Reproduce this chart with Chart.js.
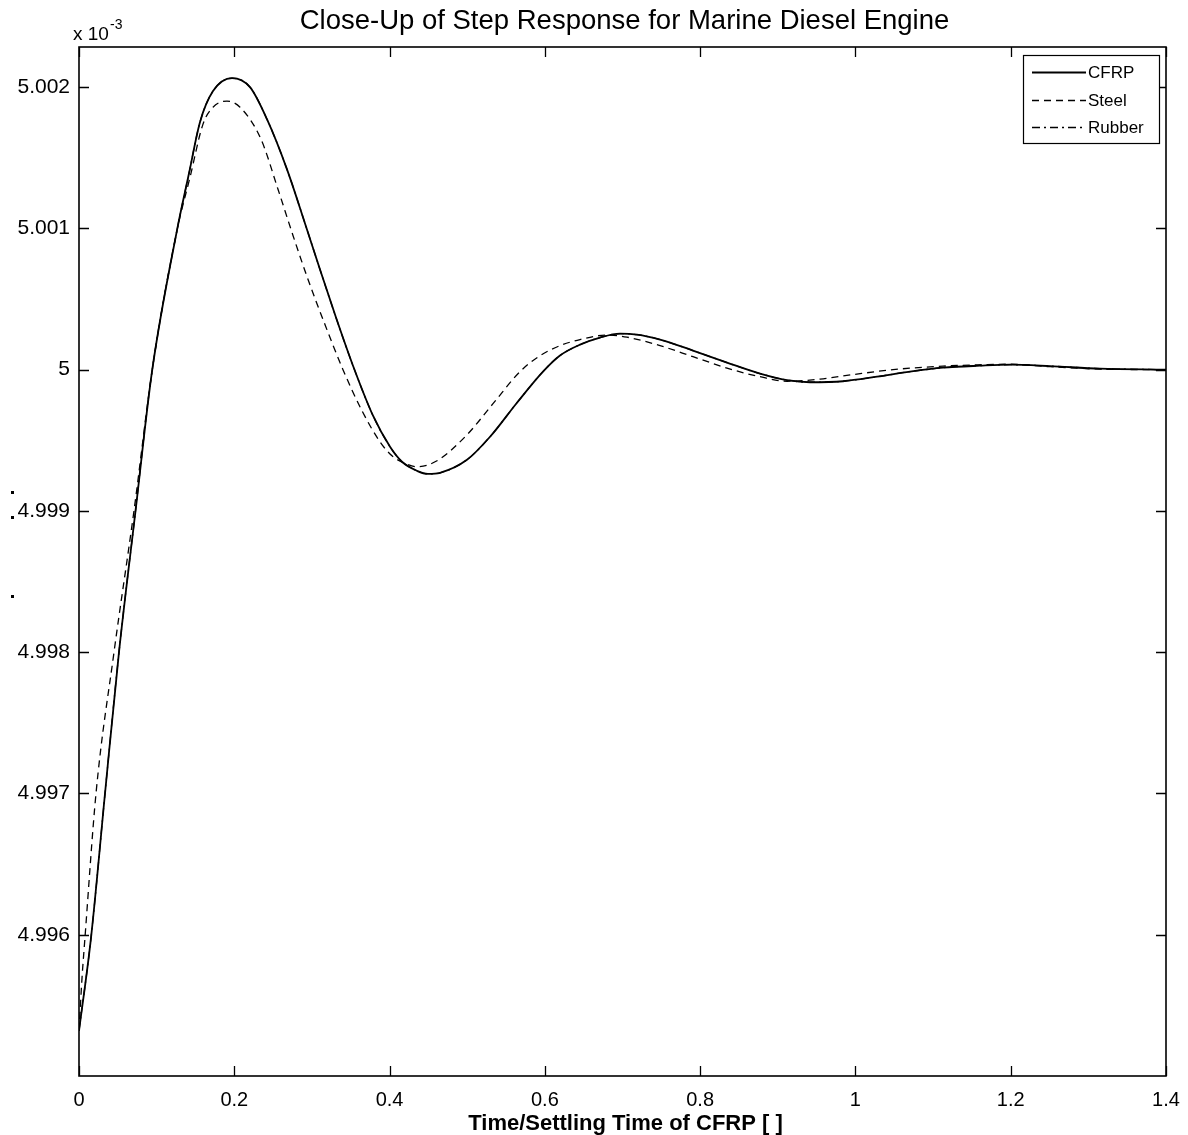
<!DOCTYPE html>
<html><head><meta charset="utf-8">
<script src="https://cdn.jsdelivr.net/npm/chart.js@4.4.1/dist/chart.umd.min.js"></script>
<style>html,body{margin:0;padding:0;background:#fff;overflow:hidden}</style>
</head><body>
<canvas id="c" width="1188" height="1135"></canvas>
<script>
// ---- data (y values in units of 1e-3) ----
const tCFRP = [0, 0.0155, 0.0335, 0.0515, 0.0728, 0.094, 0.1262, 0.1417, 0.1558, 0.1726, 0.1971, 0.2202, 0.2421, 0.2679, 0.2911, 0.3104, 0.331, 0.3529, 0.3787, 0.4006, 0.416, 0.4353, 0.4495, 0.465, 0.4997, 0.5294, 0.5641, 0.5976, 0.6195, 0.6453, 0.671, 0.6968, 0.7187, 0.7483, 0.7908, 0.8346, 0.8771, 0.9119, 0.9415, 0.984, 1.0278, 1.0703, 1.1128, 1.1605, 1.1991, 1.2507, 1.315, 1.4];
const vCFRP = [4.99532, 4.99598, 4.99700, 4.99800, 4.99900, 4.999986, 5.000986, 5.00139, 5.001752, 5.001972, 5.002064, 5.002000, 5.001773, 5.001418, 5.001035, 5.000709, 5.000369, 5.000028, 4.999674, 4.999454, 4.999348, 4.999284, 4.999262, 4.99927, 4.999362, 4.999525, 4.999766, 4.999986, 5.0001, 5.000177, 5.000227, 5.000255, 5.000248, 5.000213, 5.000135, 5.00005, 4.999972, 4.999926, 4.999911, 4.999918, 4.99995, 4.999986, 5.000014, 5.000028, 5.000035, 5.000025, 5.000007, 5.0];
const tSteel = [0, 0.0039, 0.0077, 0.0219, 0.0451, 0.0708, 0.094, 0.1262, 0.143, 0.1597, 0.1726, 0.1906, 0.2074, 0.2344, 0.2563, 0.2756, 0.295, 0.3168, 0.34, 0.3645, 0.3877, 0.4031, 0.4212, 0.4353, 0.4611, 0.4997, 0.5332, 0.568, 0.5938, 0.6195, 0.6453, 0.68, 0.7058, 0.7483, 0.7908, 0.8346, 0.8771, 0.9119, 0.9544, 0.9969, 1.0484, 1.1128, 1.1644, 1.1991, 1.2507, 1.315, 1.4];
const vSteel = [4.99532, 4.995695, 4.99598, 4.99700, 4.99800, 4.99900, 4.999986, 5.000986, 5.001362, 5.001738, 5.001858, 5.001901, 5.001858, 5.001631, 5.001277, 5.00095, 5.000638, 5.000319, 5.0, 4.999709, 4.999489, 4.99939, 4.999333, 4.999312, 4.999355, 4.999539, 4.999759, 4.999986, 5.000099, 5.00017, 5.000213, 5.000245, 5.00023, 5.00017, 5.000092, 5.000011, 4.99995, 4.999918, 4.999933, 4.999965, 5.0, 5.000025, 5.000035, 5.000039, 5.000021, 5.000004, 5.0];
// Rubber lies under the CFRP curve in the picture
const tRubber = [0, 0.0155, 0.0335, 0.0515, 0.0728, 0.094, 0.1262, 0.1417, 0.1558, 0.1726, 0.1971, 0.2202, 0.2421, 0.2679, 0.2911, 0.3104, 0.331, 0.3529, 0.3787, 0.4006, 0.416, 0.4353, 0.4495, 0.465, 0.4997, 0.5294, 0.5641, 0.5976, 0.6195, 0.6453, 0.671, 0.6968, 0.7187, 0.7483, 0.7908, 0.8346, 0.8771, 0.9119, 0.9415, 0.984, 1.0278, 1.0703, 1.1128, 1.1605, 1.1991, 1.2507, 1.315, 1.4];
const vRubber = [4.99532, 4.99598, 4.99700, 4.99800, 4.99900, 4.999986, 5.000986, 5.00139, 5.001752, 5.001972, 5.002064, 5.002000, 5.001773, 5.001418, 5.001035, 5.000709, 5.000369, 5.000028, 4.999674, 4.999454, 4.999348, 4.999284, 4.999262, 4.99927, 4.999362, 4.999525, 4.999766, 4.999986, 5.0001, 5.000177, 5.000227, 5.000255, 5.000248, 5.000213, 5.000135, 5.00005, 4.999972, 4.999926, 4.999911, 4.999918, 4.99995, 4.999986, 5.000014, 5.000028, 5.000035, 5.000025, 5.000007, 5.0];
const seriesNames = ['CFRP', 'Steel', 'Rubber'];
const xTicks = [0, 0.2, 0.4, 0.6, 0.8, 1, 1.2, 1.4];
const xTickLabels = ['0', '0.2', '0.4', '0.6', '0.8', '1', '1.2', '1.4'];
const yTicks = [4.996, 4.997, 4.998, 4.999, 5.000, 5.001, 5.002];
const yTickLabels = ['4.996', '4.997', '4.998', '4.999', '5', '5.001', '5.002'];
const titleText = 'Close-Up of Step Response for Marine Diesel Engine';
const xLabelText = 'Time/Settling Time of CFRP [ ]';

const FONT = '"Liberation Sans", Arial, Helvetica, sans-serif';
const pts = (t, v) => t.map((x, i) => ({x: x, y: v[i]}));

const styles = [
  {borderColor:'#000', borderWidth:1.8, borderDash:[], order:0},
  {borderColor:'#000', borderWidth:1.3, borderDash:[7,5], order:1},
  {borderColor:'#000', borderWidth:1.3, borderDash:[8,4,2,4], order:2}
];

const deco = {
  id: 'deco',
  afterDatasetsDraw(chart) {
    const ctx = chart.ctx, a = chart.chartArea;
    const xs = chart.scales.x, ys = chart.scales.y;
    ctx.save();
    ctx.strokeStyle = '#000'; ctx.lineWidth = 1.6; ctx.setLineDash([]);
    ctx.strokeRect(a.left, a.top, a.right - a.left, a.bottom - a.top);
    const L = 10;
    ctx.lineWidth = 1.3;
    ctx.beginPath();
    xTicks.forEach(v => {
      const px = Math.round(xs.getPixelForValue(v)) + 0.5;
      ctx.moveTo(px, a.bottom); ctx.lineTo(px, a.bottom - L);
      ctx.moveTo(px, a.top); ctx.lineTo(px, a.top + L);
    });
    yTicks.forEach(v => {
      const py = Math.round(ys.getPixelForValue(v)) + 0.5;
      ctx.moveTo(a.left, py); ctx.lineTo(a.left + L, py);
      ctx.moveTo(a.right, py); ctx.lineTo(a.right - L, py);
    });
    ctx.stroke();
    ctx.fillStyle = '#000';
    ctx.textAlign = 'center'; ctx.textBaseline = 'alphabetic';
    const cx = (a.left + a.right) / 2;
    ctx.font = '27.5px ' + FONT;
    ctx.fillText(titleText, cx + 2, 29);
    ctx.font = 'bold 22px ' + FONT;
    ctx.fillText(xLabelText, cx + 3, 1130);
    ctx.textAlign = 'left';
    ctx.font = '19px ' + FONT;
    ctx.fillText('x 10', 73, 40);
    ctx.font = '14px ' + FONT;
    ctx.fillText('-3', 110, 29);
    ctx.fillRect(11, 491, 3, 3);
    ctx.fillRect(11, 516, 3, 3);
    ctx.fillRect(11, 595, 3, 3);
    // legend
    const lx = 1023, ly = 55, lw = 136, lh = 88;
    ctx.fillStyle = '#fff';
    ctx.fillRect(lx, ly, lw, lh);
    ctx.strokeStyle = '#000'; ctx.lineWidth = 1.2;
    ctx.strokeRect(lx + 0.5, ly + 0.5, lw, lh);
    const rows = [72, 100, 127];
    ctx.font = '17px ' + FONT;
    ctx.textBaseline = 'middle';
    chart.data.datasets.forEach((ds, i) => {
      ctx.strokeStyle = ds.borderColor;
      ctx.lineWidth = ds.borderWidth;
      ctx.setLineDash(ds.borderDash);
      ctx.beginPath();
      ctx.moveTo(1032, rows[i] + 0.5); ctx.lineTo(1086, rows[i] + 0.5);
      ctx.stroke();
      ctx.setLineDash([]);
      ctx.fillStyle = '#000';
      ctx.fillText(ds.label, 1088, rows[i] + 1);
    });
    ctx.restore();
  }
};

new Chart(document.getElementById('c'), {
  type: 'line',
  data: {
    datasets: [
      Object.assign({label: seriesNames[0], data: pts(tCFRP, vCFRP)}, styles[0]),
      Object.assign({label: seriesNames[1], data: pts(tSteel, vSteel)}, styles[1]),
      Object.assign({label: seriesNames[2], data: pts(tRubber, vRubber)}, styles[2])
    ]
  },
  options: {
    responsive: false,
    devicePixelRatio: 1,
    animation: false,
    parsing: false,
    elements: { point: { radius: 0 }, line: { cubicInterpolationMode: 'monotone', fill: false } },
    layout: { padding: { top: 47, right: 22, left: 0, bottom: 0 } },
    plugins: { legend: { display: false }, title: { display: false }, tooltip: { enabled: false } },
    scales: {
      x: {
        type: 'linear', min: 0, max: 1.4,
        grid: { display: false, drawTicks: false },
        border: { display: false },
        afterBuildTicks: s => { s.ticks = xTicks.map(v => ({value: v})); },
        afterFit: s => { s.height = 59; s.paddingLeft = 0; s.paddingRight = 0; },
        ticks: {
          padding: 12, color: '#000', font: { family: FONT, size: 20 },
          maxRotation: 0, autoSkip: false,
          callback: (v) => xTickLabels[xTicks.findIndex(t => Math.abs(t - v) < 1e-9)]
        }
      },
      y: {
        type: 'linear', min: 4.995, max: 5.002284,
        grid: { display: false, drawTicks: false },
        border: { display: false },
        afterBuildTicks: s => { s.ticks = yTicks.map(v => ({value: v})); },
        afterFit: s => { s.width = 79; s.paddingTop = 0; s.paddingBottom = 0; },
        ticks: {
          padding: 9, color: '#000', font: { family: FONT, size: 21 },
          autoSkip: false,
          callback: (v) => yTickLabels[yTicks.findIndex(t => Math.abs(t - v) < 1e-7)]
        }
      }
    }
  },
  plugins: [deco]
});
</script>
</body></html>
